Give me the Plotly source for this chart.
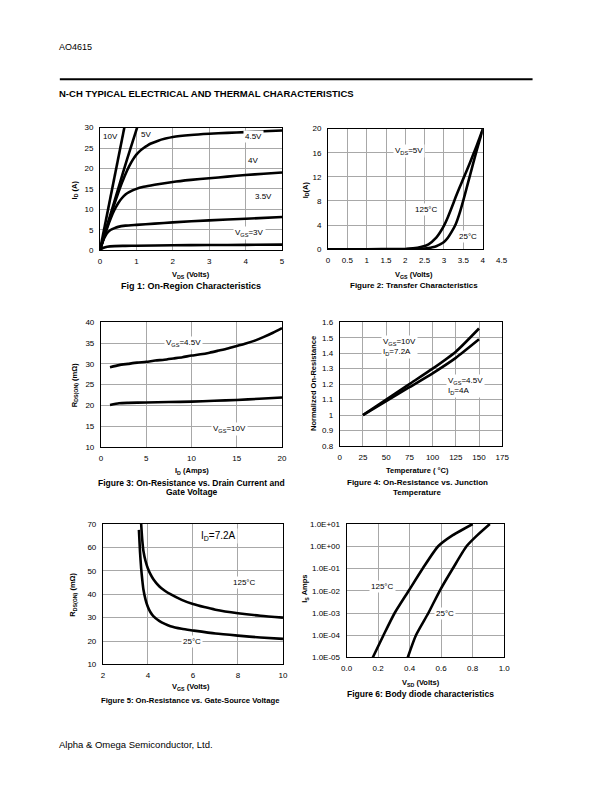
import plotly.graph_objects as go

W, H = 612, 792
FONT = "Liberation Sans, Arial, sans-serif"
GRID = "#a8a8a8"

# ---------------- Data ----------------
# Fig 1: On-region characteristics (I_D vs V_DS)
f1_10v_x = [0, 0.3, 0.67]
f1_10v_y = [0, 13.4, 30]
f1_5v_x = [0, 0.25, 0.5, 0.75, 1.02]
f1_5v_y = [0, 7.6, 15.0, 22.4, 30]
f1_45v_x = [0, 0.1, 0.2, 0.3, 0.4, 0.5, 0.6, 0.7, 0.8, 0.9, 1.0, 1.1, 1.2, 1.3, 1.4, 1.6, 1.8, 2.0, 2.5, 3.0, 3.5, 4.0, 4.5, 5.0]
f1_45v_y = [0, 2.9, 5.8, 8.6, 11.4, 14.0, 16.4, 18.6, 20.5, 22.1, 23.4, 24.3, 25.0, 25.6, 26.1, 26.8, 27.3, 27.7, 28.2, 28.5, 28.7, 28.9, 29.1, 29.3]
f1_4v_x = [0, 0.1, 0.2, 0.3, 0.4, 0.5, 0.6, 0.7, 0.8, 1.0, 1.2, 1.5, 2.0, 2.5, 3.0, 3.5, 4.0, 4.5, 5.0]
f1_4v_y = [0, 2.8, 5.5, 7.9, 9.9, 11.5, 12.7, 13.6, 14.2, 15.0, 15.5, 16.0, 16.7, 17.2, 17.6, 18.0, 18.4, 18.7, 19.0]
f1_35v_x = [0, 0.05, 0.1, 0.15, 0.2, 0.3, 0.4, 0.5, 0.7, 1.0, 1.5, 2.0, 3.0, 4.0, 5.0]
f1_35v_y = [0, 1.4, 2.6, 3.5, 4.2, 5.0, 5.4, 5.7, 6.0, 6.2, 6.5, 6.8, 7.3, 7.7, 8.1]
f1_3v_x = [0, 0.05, 0.1, 0.2, 0.4, 0.7, 1.0, 2.0, 3.0, 4.0, 5.0]
f1_3v_y = [0, 0.35, 0.6, 0.85, 1.0, 1.05, 1.1, 1.2, 1.25, 1.3, 1.35]

# Fig 2: Transfer characteristics (I_D vs V_GS)
f2_125_x = [0, 1.0, 1.8, 2.0, 2.2, 2.4, 2.6, 2.8, 2.9, 3.0, 3.1, 3.2, 3.3, 3.4, 3.5, 3.6, 3.7, 3.8, 3.9, 4.0, 4.02]
f2_125_y = [0, 0, 0.01, 0.04, 0.13, 0.35, 0.8, 1.9, 2.8, 3.9, 5.3, 6.9, 8.6, 10.2, 11.7, 13.2, 14.8, 16.4, 18.1, 19.8, 20]
f2_25_x = [0, 1.0, 2.0, 2.3, 2.5, 2.6, 2.7, 2.8, 2.9, 3.0, 3.1, 3.2, 3.3, 3.4, 3.5, 3.6, 3.7, 3.8, 3.9, 4.0, 4.02]
f2_25_y = [0, 0, 0, 0.02, 0.1, 0.2, 0.33, 0.5, 0.8, 1.2, 1.9, 2.9, 4.1, 5.9, 8.1, 10.5, 12.9, 15.3, 17.6, 19.7, 20]

# Fig 3: R_DS(ON) vs I_D
f3_id = [1, 2, 3, 4, 5, 6, 7, 8, 9, 10, 11, 12, 13, 14, 15, 16, 17, 18, 19, 20]
f3_45v = [29.2, 29.7, 30.0, 30.3, 30.5, 30.8, 31.0, 31.3, 31.6, 32.0, 32.3, 32.7, 33.2, 33.7, 34.3, 34.9, 35.6, 36.5, 37.5, 38.6]
f3_id10 = [1, 2, 3, 5, 7.5, 10, 12.5, 15, 17.5, 20]
f3_10v = [20.1, 20.5, 20.6, 20.7, 20.8, 20.9, 21.1, 21.3, 21.6, 21.9]

# Fig 4: Normalized R_DS(ON) vs temperature
f4_t = [25, 50, 75, 100, 125, 150]
f4_10v = [1.0, 1.1, 1.2, 1.3, 1.41, 1.56]
f4_45v = [1.0, 1.09, 1.18, 1.27, 1.37, 1.49]

# Fig 5: R_DS(ON) vs V_GS
f5_25_x = [3.6, 3.65, 3.7, 3.75, 3.8, 3.9, 4.0, 4.1, 4.25, 4.5, 4.75, 5.0, 5.5, 6.0, 7.0, 8.0, 9.0, 10.0]
f5_25_y = [67.5, 58, 51, 46, 42, 37.5, 34.5, 32.5, 30.5, 28.6, 27.3, 26.3, 25.2, 24.5, 23.2, 22.3, 21.5, 20.9]
f5_125_x = [3.7, 3.75, 3.8, 3.9, 4.0, 4.1, 4.25, 4.5, 4.75, 5.0, 5.5, 6.0, 6.5, 7.0, 8.0, 9.0, 10.0]
f5_125_y = [70, 63, 58.5, 54, 51, 48.8, 46.3, 43.4, 41.5, 40.0, 37.6, 35.8, 34.5, 33.4, 31.9, 30.8, 30.0]

# Fig 6: Body diode characteristics (I_S vs V_SD)
f6_125_x = [0.166, 0.234, 0.305, 0.394, 0.483, 0.581, 0.674, 0.80]
f6_125_y = [1e-5, 1e-4, 1e-3, 1e-2, 1e-1, 1, 3.16, 10]
f6_25_x = [0.388, 0.44, 0.519, 0.591, 0.674, 0.761, 0.83, 0.909]
f6_25_y = [1e-5, 1e-4, 1e-3, 1e-2, 1e-1, 1, 3.16, 10]
f6_ytick_vals = [1e-5, 1e-4, 1e-3, 1e-2, 1e-1, 1, 10]
f6_ytick_text = ["1.0E-05", "1.0E-04", "1.0E-03", "1.0E-02", "1.0E-01", "1.0E+00", "1.0E+01"]

# ---------------- Layout helpers ----------------
def fx(p):
    return p / W

def fy(p):
    return 1 - p / H

# pixel boxes: left, right, top, bottom
boxes = {
    1: (96, 282, 125, 249),
    2: (329, 487, 126, 248),
    3: (97, 282, 322, 448),
    4: (341, 507, 322, 447),
    5: (99, 283, 526, 668),
    6: (348, 509, 526, 661),
}

fig = go.Figure()

def add_line(i, x, y, shape="spline"):
    suf = "" if i == 1 else str(i)
    fig.add_trace(go.Scatter(x=x, y=y, mode="lines", xaxis="x" + suf, yaxis="y" + suf,
                             line=dict(color="black", width=2.6, shape=shape, smoothing=0.6),
                             showlegend=False, hoverinfo="skip"))

add_line(1, f1_10v_x, f1_10v_y, "linear")
add_line(1, f1_5v_x, f1_5v_y)
add_line(1, f1_45v_x, f1_45v_y)
add_line(1, f1_4v_x, f1_4v_y)
add_line(1, f1_35v_x, f1_35v_y)
add_line(1, f1_3v_x, f1_3v_y)
add_line(2, f2_125_x, f2_125_y)
add_line(2, f2_25_x, f2_25_y)
add_line(3, f3_id, f3_45v)
add_line(3, f3_id10, f3_10v)
add_line(4, f4_t, f4_10v)
add_line(4, f4_t, f4_45v)
add_line(5, f5_25_x, f5_25_y)
add_line(5, f5_125_x, f5_125_y)
add_line(6, f6_125_x, f6_125_y)
add_line(6, f6_25_x, f6_25_y)

tickfont = dict(family=FONT, size=8, color="black")

def ax(domain, **kw):
    d = dict(domain=domain, showline=True, linecolor="black", linewidth=1, mirror=True,
             showgrid=True, gridcolor=GRID, gridwidth=1, zeroline=False, ticks="",
             tickfont=tickfont, fixedrange=True)
    d.update(kw)
    return d

axis_specs = {
    1: (dict(range=[0, 5], dtick=1), dict(range=[0, 30], dtick=5)),
    2: (dict(range=[0, 4], tickvals=[0, 0.5, 1, 1.5, 2, 2.5, 3, 3.5, 4]), dict(range=[0, 20], dtick=4)),
    3: (dict(range=[0, 20], dtick=5), dict(range=[10, 40], dtick=5)),
    4: (dict(range=[0, 175], dtick=25), dict(range=[0.8, 1.6], dtick=0.1)),
    5: (dict(range=[2, 10], dtick=2), dict(range=[10, 70], dtick=10)),
    6: (dict(range=[0, 1], dtick=0.2, tickformat=".1f"),
        dict(type="log", range=[-5, 1], tickvals=f6_ytick_vals, ticktext=f6_ytick_text)),
}

layout_axes = {}
for i, (l, r, t, b) in boxes.items():
    suf = "" if i == 1 else str(i)
    xs, ys = axis_specs[i]
    layout_axes["xaxis" + suf] = ax([fx(l), fx(r)], anchor="y" + suf, ticklabelstandoff=3, **xs)
    layout_axes["yaxis" + suf] = ax([fy(b), fy(t)], anchor="x" + suf, ticklabelstandoff=4, **ys)

fig.update_layout(width=W, height=H, margin=dict(l=0, r=0, t=0, b=0),
                  paper_bgcolor="white", plot_bgcolor="white",
                  font=dict(family=FONT, size=8, color="black"), **layout_axes)

annotations = []

def txt(xp, yp, text, size=8, bold=False, angle=0, xanchor="center", align="center"):
    if bold:
        text = "<b>" + text + "</b>"
    annotations.append(dict(x=fx(xp), y=fy(yp), xref="paper", yref="paper", text=text,
                            showarrow=False, textangle=angle, xanchor=xanchor, yanchor="middle",
                            align=align, font=dict(family=FONT, size=size, color="black")))

def lab(i, x, y, text, size=8, align="center", xanchor="center"):
    suf = "" if i == 1 else str(i)
    annotations.append(dict(x=x, y=y, xref="x" + suf, yref="y" + suf, text=text, showarrow=False,
                            bgcolor="white", borderpad=1, align=align, xanchor=xanchor,
                            font=dict(family=FONT, size=size, color="black")))

# header / footer
txt(52, 43, "AO4615", size=9, xanchor="left")
txt(52, 91, "N-CH TYPICAL ELECTRICAL AND THERMAL CHARACTERISTICS", size=9.5, bold=True, xanchor="left")
txt(52, 749, "Alpha &amp; Omega Semiconductor, Ltd.", size=9.5, xanchor="left")

# extra tick label 4.5 for Fig 2 (beyond frame)
txt(507, 259, "4.5", size=8)

# axis titles
AT = 7.5
txt(189, 274, "V<sub>DS</sub> (Volts)", size=AT, bold=True)
txt(70, 188, "I<sub>D</sub> (A)", size=AT, bold=True, angle=-90)
txt(417, 274, "V<sub>GS</sub> (Volts)", size=AT, bold=True)
txt(306, 188, "I<sub>D</sub>(A)", size=AT, bold=True, angle=-90)
txt(190, 472, "I<sub>D</sub> (Amps)", size=AT, bold=True)
txt(70, 386, "R<sub>DS(ON)</sub> (mΩ)", size=AT, bold=True, angle=-90)
txt(420, 472, "Temperature ( °C)", size=AT, bold=True)
txt(314, 384, "Normalized On-Resistance", size=AT, bold=True, angle=-90)
txt(189, 691, "V<sub>GS</sub> (Volts)", size=AT, bold=True)
txt(69, 598, "R<sub>DS(ON)</sub> (mΩ)", size=AT, bold=True, angle=-90)
txt(424, 687, "V<sub>SD</sub> (Volts)", size=AT, bold=True)
txt(306, 592, "I<sub>S</sub> Amps", size=AT, bold=True, angle=-90)

# captions
txt(189, 285, "Fig 1: On-Region Characteristics", size=9, bold=True)
txt(417, 285, "Figure 2: Transfer Characteristics", size=8, bold=True)
txt(190, 484, "Figure 3: On-Resistance vs. Drain Current and", size=8.5, bold=True)
txt(190, 494, "Gate Voltage", size=8.5, bold=True)
txt(420, 484, "Figure 4: On-Resistance vs. Junction", size=8, bold=True)
txt(420, 494, "Temperature", size=8, bold=True)
txt(189, 704, "Figure 5: On-Resistance vs. Gate-Source Voltage", size=7.7, bold=True)
txt(424, 698, "Figure 6: Body diode characteristics", size=8.5, bold=True)

# curve labels
lab(1, 0.3, 27.8, "10V")
lab(1, 1.27, 28.3, "5V")
lab(1, 4.22, 27.8, "4.5V")
lab(1, 4.19, 22.0, "4V")
lab(1, 4.49, 13.1, "3.5V")
lab(1, 4.1, 4.3, "V<sub>GS</sub>=3V")
lab(2, 2.09, 16.3, "V<sub>DS</sub>=5V")
lab(2, 2.54, 6.6, "125°C")
lab(2, 3.63, 2.1, "25°C")
lab(3, 9.15, 35.0, "V<sub>GS</sub>=4.5V")
lab(3, 14.2, 14.2, "V<sub>GS</sub>=10V")
lab(4, 44, 1.44, "V<sub>GS</sub>=10V<br>I<sub>D</sub>=7.2A", align="left", xanchor="left")
lab(4, 114, 1.186, "V<sub>GS</sub>=4.5V<br>I<sub>D</sub>=4A", align="left", xanchor="left")
lab(5, 7.12, 64.8, "I<sub>D</sub>=7.2A", size=10)
lab(5, 8.28, 45.1, "125°C")
lab(5, 5.96, 19.8, "25°C")
# log axis: annotation y given as log10 value
lab(6, 0.228, -1.81, "125°C")
lab(6, 0.622, -3.0, "25°C")

fig.update_layout(annotations=annotations,
                  shapes=[dict(type="line", xref="paper", yref="paper", x0=fx(55), x1=fx(538),
                               y0=fy(76), y1=fy(76), line=dict(color="black", width=2))])

fig.write_html("out.html", config={"displayModeBar": False},
               post_script="document.body.style.margin='0px';")
